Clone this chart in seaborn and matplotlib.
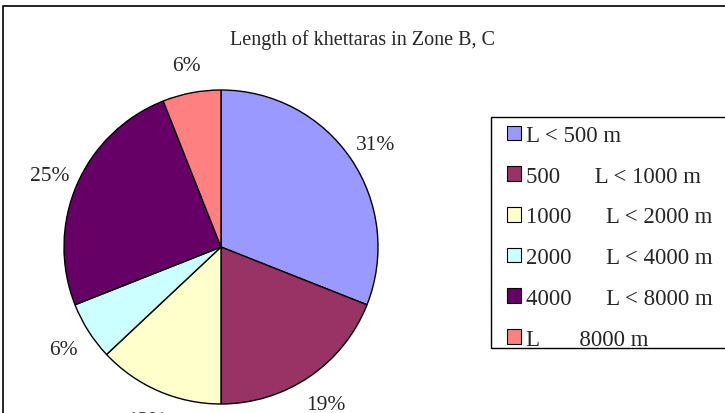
import matplotlib
matplotlib.use("Agg")
import matplotlib.pyplot as plt
import matplotlib.patches as mpatches
import seaborn as sns

# Length classes of khettaras (Zone B, C), share in percent
categories = ["L < 500 m", "500      L < 1000 m", "1000      L < 2000 m",
              "2000      L < 4000 m", "4000      L < 8000 m", "L       8000 m"]
shares = [31, 19, 13, 6, 25, 6]
colors = ["#9999FF", "#993366", "#FFFFCC", "#CCFFFF", "#660066", "#FF8080"]

sns.set_style("white")
plt.rcParams["font.family"] = ["Liberation Serif", "DejaVu Serif"]

W, H, DPI = 725, 414, 100
fig = plt.figure(figsize=(W / DPI, H / DPI), dpi=DPI)
ax = fig.add_axes([0, 0, 1, 1])

# pie centre and radius in pixels
cx, cy, r = 221, 248, 157
wedges, texts = ax.pie(shares, colors=colors, startangle=90, counterclock=False,
                       labels=[f"{v}%" for v in shares], labeldistance=1.19,
                       wedgeprops=dict(edgecolor="black", linewidth=1.0),
                       textprops=dict(fontsize=15.5))
for t in texts:
    t.set_ha("center")
    t.set_va("center_baseline")
ax.set_xlim(-cx / r, (W - cx) / r)
ax.set_ylim(-(H - cy) / r, cy / r)
ax.set_aspect("auto")
ax.axis("off")

# outer chart border (cropped on right and bottom)
fig.patches.append(mpatches.Rectangle((3 / W, -0.1), 1.2, 1 - 7 / H + 0.1,
                                      transform=fig.transFigure, fill=False,
                                      edgecolor="black", linewidth=1.2))

fig.text(362 / W, 1 - 40 / H, "Length of khettaras in Zone B, C",
         ha="center", va="center", fontsize=14.5)

# legend box (cropped on the right)
fig.patches.append(mpatches.Rectangle((491 / W, 1 - 349 / H), 1.0, (349 - 118) / H,
                                      transform=fig.transFigure, fill=False,
                                      edgecolor="black", linewidth=1.0))
handles = [mpatches.Patch(facecolor=c, edgecolor="black", linewidth=0.8) for c in colors]
leg = fig.legend(handles, categories, loc="upper left",
                 bbox_to_anchor=(507 / W, 1 - 126 / H), fontsize=16.5,
                 frameon=False, handlelength=0.6, handleheight=0.6,
                 handletextpad=0.25, labelspacing=0.86, borderpad=0,
                 borderaxespad=0)

fig.savefig("out.png", dpi=DPI)
